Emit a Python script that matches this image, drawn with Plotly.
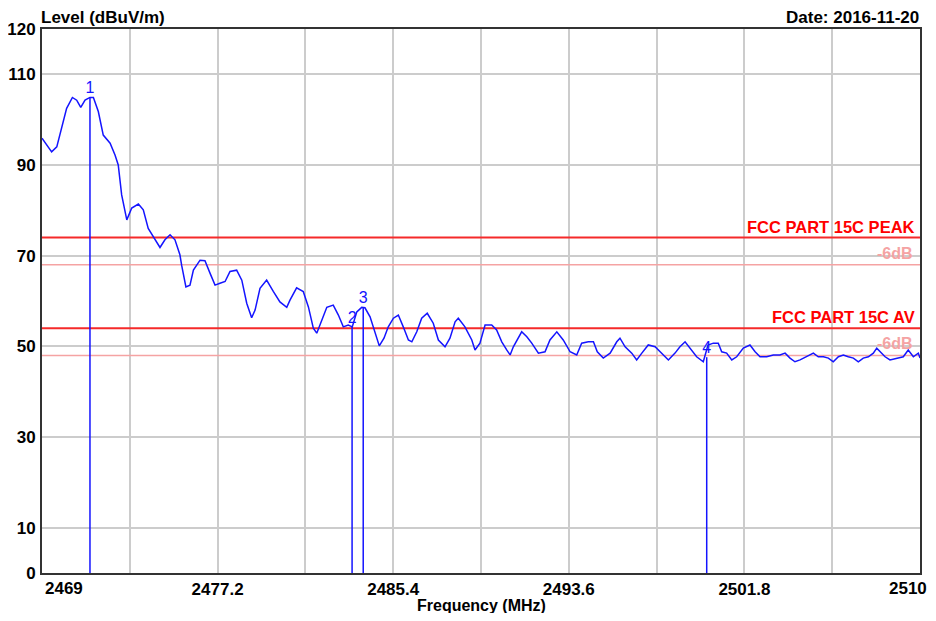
import plotly.graph_objects as go

# ---------------- data ----------------
freq_mhz = [
    2469.00, 2469.45, 2469.69, 2469.92, 2470.15, 2470.42, 2470.62, 2470.81, 2471.01, 2471.24,
    2471.40, 2471.63, 2471.86, 2472.18, 2472.41, 2472.56, 2472.72, 2472.96, 2473.19, 2473.50,
    2473.73, 2473.96, 2474.28, 2474.51, 2474.74, 2474.98, 2475.21, 2475.44, 2475.52, 2475.72,
    2475.91, 2476.07, 2476.38, 2476.61, 2476.85, 2477.08, 2477.31, 2477.55, 2477.78, 2478.09,
    2478.33, 2478.56, 2478.79, 2478.95, 2479.18, 2479.49, 2479.80, 2480.11, 2480.43, 2480.58,
    2480.89, 2481.20, 2481.44, 2481.67, 2481.83, 2482.06, 2482.30, 2482.60, 2482.84, 2483.07,
    2483.30, 2483.49, 2483.70, 2483.93, 2484.08, 2484.32, 2484.55, 2484.75, 2484.97, 2485.17,
    2485.41, 2485.64, 2485.87, 2486.11, 2486.27, 2486.50, 2486.73, 2486.99, 2487.27, 2487.51,
    2487.82, 2488.05, 2488.29, 2488.44, 2488.75, 2489.07, 2489.22, 2489.45, 2489.69, 2490.00,
    2490.23, 2490.47, 2490.70, 2490.86, 2491.01, 2491.24, 2491.40, 2491.64, 2491.87, 2492.18,
    2492.49, 2492.72, 2493.04, 2493.34, 2493.66, 2493.97, 2494.20, 2494.51, 2494.75, 2494.93,
    2495.21, 2495.53, 2495.84, 2495.99, 2496.23, 2496.54, 2496.77, 2497.01, 2497.31, 2497.63,
    2497.94, 2498.25, 2498.56, 2498.79, 2499.03, 2499.26, 2499.57, 2499.88, 2500.10, 2500.35,
    2500.58, 2500.74, 2500.97, 2501.21, 2501.44, 2501.75, 2502.06, 2502.30, 2502.53, 2502.84,
    2503.15, 2503.46, 2503.70, 2503.93, 2504.16, 2504.40, 2504.71, 2505.02, 2505.25, 2505.49,
    2505.72, 2505.95, 2506.19, 2506.42, 2506.65, 2506.89, 2507.12, 2507.35, 2507.59, 2507.82,
    2507.98, 2508.13, 2508.37, 2508.60, 2508.91, 2509.22, 2509.45, 2509.69, 2509.92, 2510.00,
]
level_dbuv = [
    95.9, 92.9, 94.0, 98.1, 102.5, 104.9, 104.3, 102.7, 104.3, 104.9,
    104.9, 101.8, 96.6, 94.8, 92.2, 90.0, 83.4, 77.9, 80.5, 81.4,
    80.1, 76.0, 73.7, 71.8, 73.5, 74.6, 73.5, 70.2, 67.9, 63.1,
    63.5, 66.8, 69.0, 68.9, 66.1, 63.5, 63.9, 64.3, 66.5, 66.8,
    64.6, 59.5, 56.3, 58.0, 62.8, 64.6, 62.1, 59.8, 58.6, 60.2,
    62.9, 62.1, 58.7, 54.0, 52.9, 55.8, 58.6, 59.1, 56.9, 54.3,
    54.7, 54.3, 57.6, 58.6, 58.5, 56.5, 52.9, 50.1, 51.8, 54.3,
    56.2, 56.9, 54.3, 51.4, 51.0, 53.2, 56.2, 57.3, 55.1, 51.4,
    49.9, 51.8, 55.4, 56.2, 54.3, 51.4, 49.2, 50.7, 54.7, 54.7,
    53.6, 51.0, 49.2, 48.1, 49.9, 51.8, 53.2, 52.1, 50.7, 48.5,
    48.8, 51.4, 53.2, 51.4, 48.8, 48.1, 50.7, 51.0, 51.0, 48.8,
    47.4, 48.5, 51.0, 51.8, 49.9, 48.5, 47.0, 48.5, 50.3, 49.9,
    48.5, 47.0, 48.5, 49.9, 51.0, 49.6, 47.7, 46.6, 50.3, 50.7,
    50.7, 48.8, 48.5, 47.0, 47.7, 49.6, 50.3, 48.8, 47.7, 47.7,
    48.1, 48.1, 48.5, 47.4, 46.6, 47.0, 47.7, 48.5, 47.7, 47.7,
    47.4, 46.6, 47.7, 48.1, 47.7, 47.4, 46.6, 47.4, 47.7, 48.5,
    49.6, 48.8, 47.7, 47.0, 47.4, 47.7, 49.2, 47.7, 48.5, 47.4,
]

marker_freq = [2471.24, 2483.48, 2484.00, 2500.04]
marker_level = [104.9, 54.3, 58.6, 47.6]
marker_labels = ["1", "2", "3", "4"]

limit_names = ["FCC PART 15C PEAK", "FCC PART 15C AV"]
limit_levels = [74, 54]
margin_db = 6

x_range = [2469, 2510]
y_range = [0, 120]
x_tick_vals = [2469, 2473.1, 2477.2, 2481.3, 2485.4, 2489.5, 2493.6, 2497.7, 2501.8, 2505.9, 2510]
x_tick_text = ["", "", "2477.2", "", "2485.4", "", "2493.6", "", "2501.8", "", ""]
x_edge_labels = ["2469", "2510"]
y_tick_vals = [0, 10, 30, 50, 70, 90, 110, 120]

title_y = "Level (dBuV/m)"
title_x = "Frequency (MHz)"
date_text = "Date: 2016-11-20"

# ---------------- figure ----------------
FONT = "Arial, Liberation Sans, sans-serif"
BLUE = "#1414ff"
RED = "#f52a2a"
PINK = "#f5a3a3"

fig = go.Figure()

# limit lines and -6dB lines
for lvl in limit_levels:
    fig.add_trace(go.Scatter(x=x_range, y=[lvl - margin_db] * 2, mode="lines",
                             line=dict(color=PINK, width=1.5), hoverinfo="skip", showlegend=False))
    fig.add_trace(go.Scatter(x=x_range, y=[lvl] * 2, mode="lines",
                             line=dict(color=RED, width=2), hoverinfo="skip", showlegend=False))

# marker lines
mx, my = [], []
for f, v in zip(marker_freq, marker_level):
    mx += [f, f, None]
    my += [0, v, None]
fig.add_trace(go.Scatter(x=mx, y=my, mode="lines", line=dict(color=BLUE, width=1.5),
                         hoverinfo="skip", showlegend=False))

# trace
fig.add_trace(go.Scatter(x=freq_mhz, y=level_dbuv, mode="lines",
                         line=dict(color=BLUE, width=1.5), showlegend=False))

# marker labels
fig.add_trace(go.Scatter(x=marker_freq, y=marker_level, mode="text", text=marker_labels,
                         textposition="top center",
                         textfont=dict(family=FONT, size=16, color=BLUE), showlegend=False))

annotations = []
for name, lvl in zip(limit_names, limit_levels):
    annotations.append(dict(x=x_range[1], y=lvl, xref="x", yref="y", text=name, showarrow=False,
                            xanchor="right", yanchor="bottom", xshift=-3, yshift=0,
                            font=dict(family=FONT, size=16.5, color="#ff0000", weight="bold")))
    annotations.append(dict(x=x_range[1], y=lvl - margin_db, xref="x", yref="y",
                            text="-%ddB" % margin_db, showarrow=False,
                            xanchor="right", yanchor="bottom", xshift=-5, yshift=1,
                            font=dict(family=FONT, size=16, color=PINK, weight="bold")))

annotations.append(dict(x=x_range[0], y=0, xref="x", yref="paper", text=x_edge_labels[0],
                        showarrow=False, xanchor="left", yanchor="top", xshift=1, yshift=-4,
                        font=dict(family=FONT, size=17, color="black", weight="bold")))
annotations.append(dict(x=x_range[1], y=0, xref="x", yref="paper", text=x_edge_labels[1],
                        showarrow=False, xanchor="right", yanchor="top", xshift=9, yshift=-4,
                        font=dict(family=FONT, size=17, color="black", weight="bold")))
annotations.append(dict(x=0, y=1, xref="paper", yref="paper", text=title_y, showarrow=False,
                        xanchor="left", yanchor="bottom", xshift=-3, yshift=0,
                        font=dict(family=FONT, size=17, color="black", weight="bold")))
annotations.append(dict(x=1, y=1, xref="paper", yref="paper", text=date_text, showarrow=False,
                        xanchor="right", yanchor="bottom", xshift=1, yshift=0,
                        font=dict(family=FONT, size=17, color="black", weight="bold")))
annotations.append(dict(x=0.5, y=0, xref="paper", yref="paper", text=title_x, showarrow=False,
                        xanchor="center", yanchor="top", yshift=-22,
                        font=dict(family=FONT, size=16, color="black", weight="bold")))

# the page body adds an 8 px margin, so the figure is sized to fit inside it
fig.update_layout(
    width=920, height=605,
    margin=dict(l=34, r=8, t=21, b=40),
    paper_bgcolor="white", plot_bgcolor="white",
    showlegend=False,
    annotations=annotations,
    xaxis=dict(range=x_range, tickmode="array", tickvals=x_tick_vals, ticktext=x_tick_text,
               showgrid=True, gridcolor="#cccccc", gridwidth=1.5, zeroline=False,
               showline=True, linecolor="#333333", linewidth=2, mirror=True,
               ticks="", automargin=False,
               tickfont=dict(family=FONT, size=17, color="black", weight="bold")),
    yaxis=dict(range=y_range, tickmode="array", tickvals=y_tick_vals,
               showgrid=True, gridcolor="#cccccc", gridwidth=1.5, zeroline=False,
               showline=True, linecolor="#333333", linewidth=2, mirror=True,
               ticks="", automargin=False, ticklabelstandoff=1,
               tickfont=dict(family=FONT, size=17, color="black", weight="bold")),
)

fig.write_html("out.html")
